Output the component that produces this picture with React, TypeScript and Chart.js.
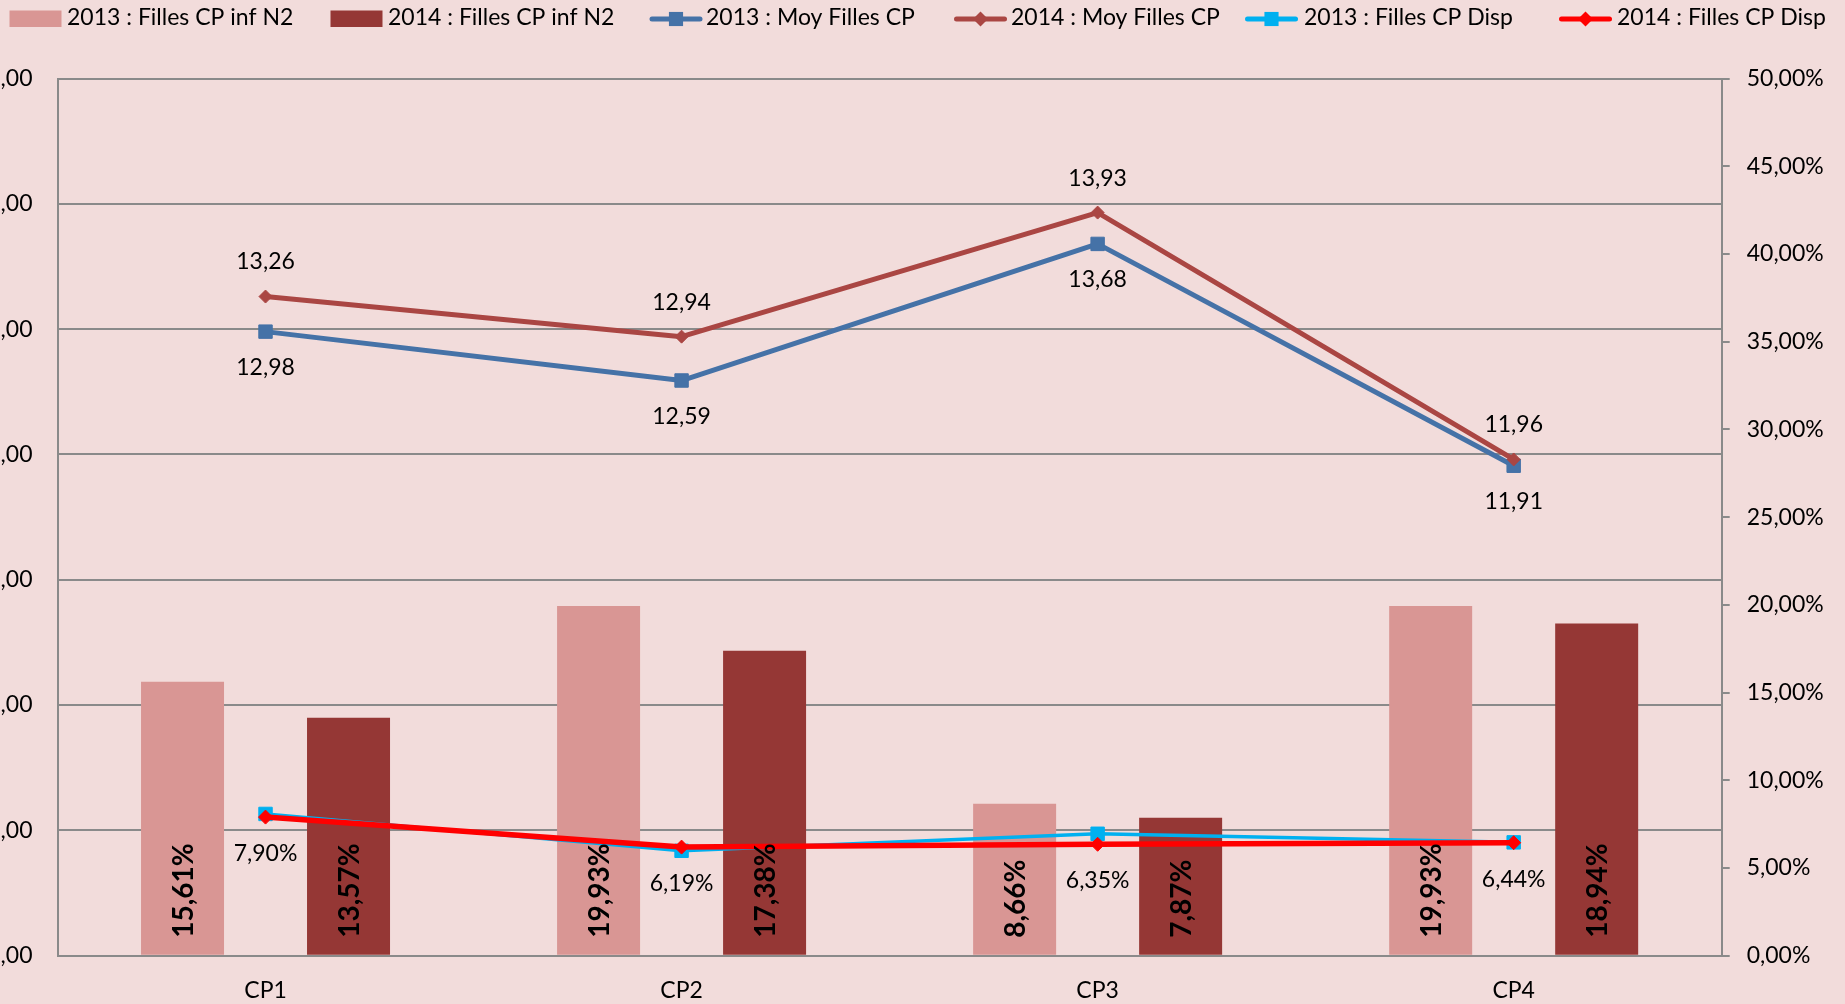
import React, { useEffect, useRef } from 'react';
import { Chart, registerables } from 'chart.js';

Chart.register(...registerables);

// ---------- data ----------
const categories = ['CP1', 'CP2', 'CP3', 'CP4'];
const fillesInfN2_2013 = [15.61, 19.93, 8.66, 19.93];
const fillesInfN2_2014 = [13.57, 17.38, 7.87, 18.94];
const moyFilles2013 = [12.98, 12.59, 13.68, 11.91];
const moyFilles2014 = [13.26, 12.94, 13.93, 11.96];
const fillesDisp2013 = [8.08, 5.98, 6.95, 6.46];
const fillesDisp2014 = [7.9, 6.19, 6.35, 6.44];
const seriesLabels = [
  '2013 : Filles CP inf N2',
  '2014 : Filles CP inf N2',
  '2013 : Moy Filles CP',
  '2014 : Moy Filles CP',
  '2013 : Filles CP Disp',
  '2014 : Filles CP Disp',
];
const leftAxisMin = 8;
const leftAxisMax = 15;
const leftAxisStep = 1;
const rightAxisMin = 0;
const rightAxisMax = 50;
const rightAxisStep = 5;

// ---------- styles ----------
const BG = '#F2DCDB';
const GRID = '#8A8A8A';
const C_BAR13 = '#D99694';
const C_BAR14 = '#953735';
const C_MOY13 = '#4572A7';
const C_MOY14 = '#AA4643';
const C_DISP13 = '#00B0F0';
const C_DISP14 = '#FF0000';
const FONT = 'Lato';

const fmt = (v: number) => v.toFixed(2).replace('.', ',');

function drawMarker(ctx: CanvasRenderingContext2D, kind: string, x: number, y: number, r: number, color: string) {
  ctx.fillStyle = color;
  ctx.beginPath();
  if (kind === 'rect') {
    const s = r * Math.SQRT1_2;
    ctx.rect(x - s, y - s, 2 * s, 2 * s);
  } else {
    ctx.moveTo(x - r, y);
    ctx.lineTo(x, y - r);
    ctx.lineTo(x + r, y);
    ctx.lineTo(x, y + r);
    ctx.closePath();
  }
  ctx.fill();
}

const legendLayout = [
  { kind: 'box', color: C_BAR13, x: 9.5, textX: 67 },
  { kind: 'box', color: C_BAR14, x: 330.5, textX: 388 },
  { kind: 'line', color: C_MOY13, marker: 'rect', r: 10, lw: 5, x: 649.5, textX: 706 },
  { kind: 'line', color: C_MOY14, marker: 'rectRot', r: 7.5, lw: 5, x: 954, textX: 1011 },
  { kind: 'line', color: C_DISP13, marker: 'rect', r: 10, lw: 5, x: 1245, textX: 1304 },
  { kind: 'line', color: C_DISP14, marker: 'rectRot', r: 7.5, lw: 5, x: 1559, textX: 1617 },
];

const legendPlugin = {
  id: 'customLegend',
  afterDraw(chart: any) {
    const ctx = chart.ctx as CanvasRenderingContext2D;
    ctx.save();
    ctx.font = `23px ${FONT}`;
    ctx.textBaseline = 'middle';
    ctx.textAlign = 'left';
    legendLayout.forEach((it, i) => {
      if (it.kind === 'box') {
        ctx.fillStyle = it.color;
        ctx.fillRect(it.x, 10.5, 52, 16.5);
      } else {
        ctx.strokeStyle = it.color;
        ctx.lineWidth = it.lw as number;
        ctx.lineCap = 'round';
        ctx.beginPath();
        ctx.moveTo(it.x + 2.5, 19);
        ctx.lineTo(it.x + 50.5, 19);
        ctx.stroke();
        drawMarker(ctx, it.marker as string, it.x + 26.5, 19, it.r as number, it.color);
      }
      ctx.fillStyle = '#000';
      ctx.fillText(chart.data.datasets[i].label, it.textX, 18);
    });
    ctx.restore();
  },
};

const labelsPlugin = {
  id: 'valueLabels',
  afterDatasetsDraw(chart: any) {
    const ctx = chart.ctx as CanvasRenderingContext2D;
    ctx.save();
    ctx.fillStyle = '#000';
    // bar labels, rotated
    [0, 1].forEach((di) => {
      const meta = chart.getDatasetMeta(di);
      meta.data.forEach((el: any, i: number) => {
        const v = chart.data.datasets[di].data[i] as number;
        const p = el.getProps(['x', 'base'], true);
        ctx.save();
        ctx.translate(p.x, p.base - 17);
        ctx.rotate(-Math.PI / 2);
        ctx.font = `bold 28px ${FONT}`;
        ctx.textAlign = 'left';
        ctx.textBaseline = 'alphabetic';
        ctx.fillText(fmt(v) + '%', 0, 10);
        ctx.restore();
      });
    });
    ctx.font = `23px ${FONT}`;
    ctx.textAlign = 'center';
    ctx.textBaseline = 'middle';
    const lineLabel = (di: number, dy: number, suffix: string) => {
      const meta = chart.getDatasetMeta(di);
      meta.data.forEach((el: any, i: number) => {
        const v = chart.data.datasets[di].data[i] as number;
        const p = el.getProps(['x', 'y'], true);
        ctx.fillText(fmt(v) + suffix, p.x, p.y + dy);
      });
    };
    lineLabel(2, 36, '');
    lineLabel(3, -34.5, '');
    lineLabel(5, 36.5, '%');
    ctx.restore();
  },
};

export default function App() {
  const ref = useRef<HTMLCanvasElement | null>(null);

  useEffect(() => {
    if (!ref.current) return;
    const chart = new Chart(ref.current, {
      type: 'bar',
      data: {
        labels: categories,
        datasets: [
          {
            type: 'bar',
            label: seriesLabels[0],
            data: fillesInfN2_2013,
            yAxisID: 'y1',
            backgroundColor: C_BAR13,
            barPercentage: 0.5,
            categoryPercentage: 0.798,
            order: 9,
          },
          {
            type: 'bar',
            label: seriesLabels[1],
            data: fillesInfN2_2014,
            yAxisID: 'y1',
            backgroundColor: C_BAR14,
            barPercentage: 0.5,
            categoryPercentage: 0.798,
            order: 10,
          },
          {
            type: 'line',
            label: seriesLabels[2],
            data: moyFilles2013,
            yAxisID: 'y',
            borderColor: C_MOY13,
            backgroundColor: C_MOY13,
            borderWidth: 5,
            pointStyle: 'rect',
            pointRadius: 9.5,
            pointBorderWidth: 1,
            pointBackgroundColor: C_MOY13,
            pointBorderColor: C_MOY13,
            tension: 0,
            borderJoinStyle: 'round',
            order: 4,
          } as any,
          {
            type: 'line',
            label: seriesLabels[3],
            data: moyFilles2014,
            yAxisID: 'y',
            borderColor: C_MOY14,
            backgroundColor: C_MOY14,
            borderWidth: 5,
            pointStyle: 'rectRot',
            pointRadius: 6.5,
            pointBorderWidth: 1,
            pointBackgroundColor: C_MOY14,
            pointBorderColor: C_MOY14,
            tension: 0,
            borderJoinStyle: 'round',
            order: 3,
          } as any,
          {
            type: 'line',
            label: seriesLabels[4],
            data: fillesDisp2013,
            yAxisID: 'y1',
            borderColor: C_DISP13,
            backgroundColor: C_DISP13,
            borderWidth: 3.5,
            pointStyle: 'rect',
            pointRadius: 9.5,
            pointBorderWidth: 1,
            pointBackgroundColor: C_DISP13,
            pointBorderColor: C_DISP13,
            tension: 0,
            borderJoinStyle: 'round',
            order: 2,
          } as any,
          {
            type: 'line',
            label: seriesLabels[5],
            data: fillesDisp2014,
            yAxisID: 'y1',
            borderColor: C_DISP14,
            backgroundColor: C_DISP14,
            borderWidth: 5.5,
            pointStyle: 'rectRot',
            pointRadius: 7,
            pointBorderWidth: 1,
            pointBackgroundColor: C_DISP14,
            pointBorderColor: C_DISP14,
            tension: 0,
            borderJoinStyle: 'round',
            order: 1,
          } as any,
        ],
      },
      options: {
        responsive: false,
        devicePixelRatio: 1,
        animation: false,
        layout: { padding: { top: 78.5, left: 0, right: 0, bottom: 0 } },
        plugins: {
          legend: { display: false },
          tooltip: { enabled: false },
          title: { display: false },
        },
        scales: {
          x: {
            type: 'category',
            offset: true,
            grid: { display: false, drawTicks: false },
            border: { display: true, color: GRID, width: 2 },
            ticks: {
              color: '#000',
              font: { family: FONT, size: 23 },
              padding: 21.5,
              maxRotation: 0,
            },
            afterFit: (s: any) => {
              s.height = 48.3;
            },
          },
          y: {
            type: 'linear',
            position: 'left',
            min: leftAxisMin,
            max: leftAxisMax,
            ticks: {
              stepSize: leftAxisStep,
              color: '#000',
              font: { family: FONT, size: 23 },
              padding: 25,
              callback: (v: any) => fmt(Number(v)),
            },
            grid: { color: GRID, lineWidth: 2, drawTicks: false },
            border: { display: true, color: GRID, width: 2 },
            afterFit: (s: any) => {
              s.width = 57.5;
            },
          },
          y1: {
            type: 'linear',
            position: 'right',
            min: rightAxisMin,
            max: rightAxisMax,
            ticks: {
              stepSize: rightAxisStep,
              color: '#000',
              font: { family: FONT, size: 23 },
              padding: 17,
              callback: (v: any) => fmt(Number(v)) + '%',
            },
            grid: { drawOnChartArea: false, drawTicks: true, tickLength: 8, color: GRID, lineWidth: 2 },
            border: { display: true, color: GRID, width: 2 },
            afterFit: (s: any) => {
              s.width = 123.3;
            },
          },
        },
      } as any,
      plugins: [labelsPlugin, legendPlugin],
    });
    return () => chart.destroy();
  }, []);

  return (
    <div
      style={{
        position: 'fixed',
        left: 0,
        top: 0,
        width: 1845,
        height: 1004,
        background: BG,
        overflow: 'hidden',
      }}
    >
      <canvas ref={ref} width={1845} height={1004} style={{ display: 'block' }} />
    </div>
  );
}
